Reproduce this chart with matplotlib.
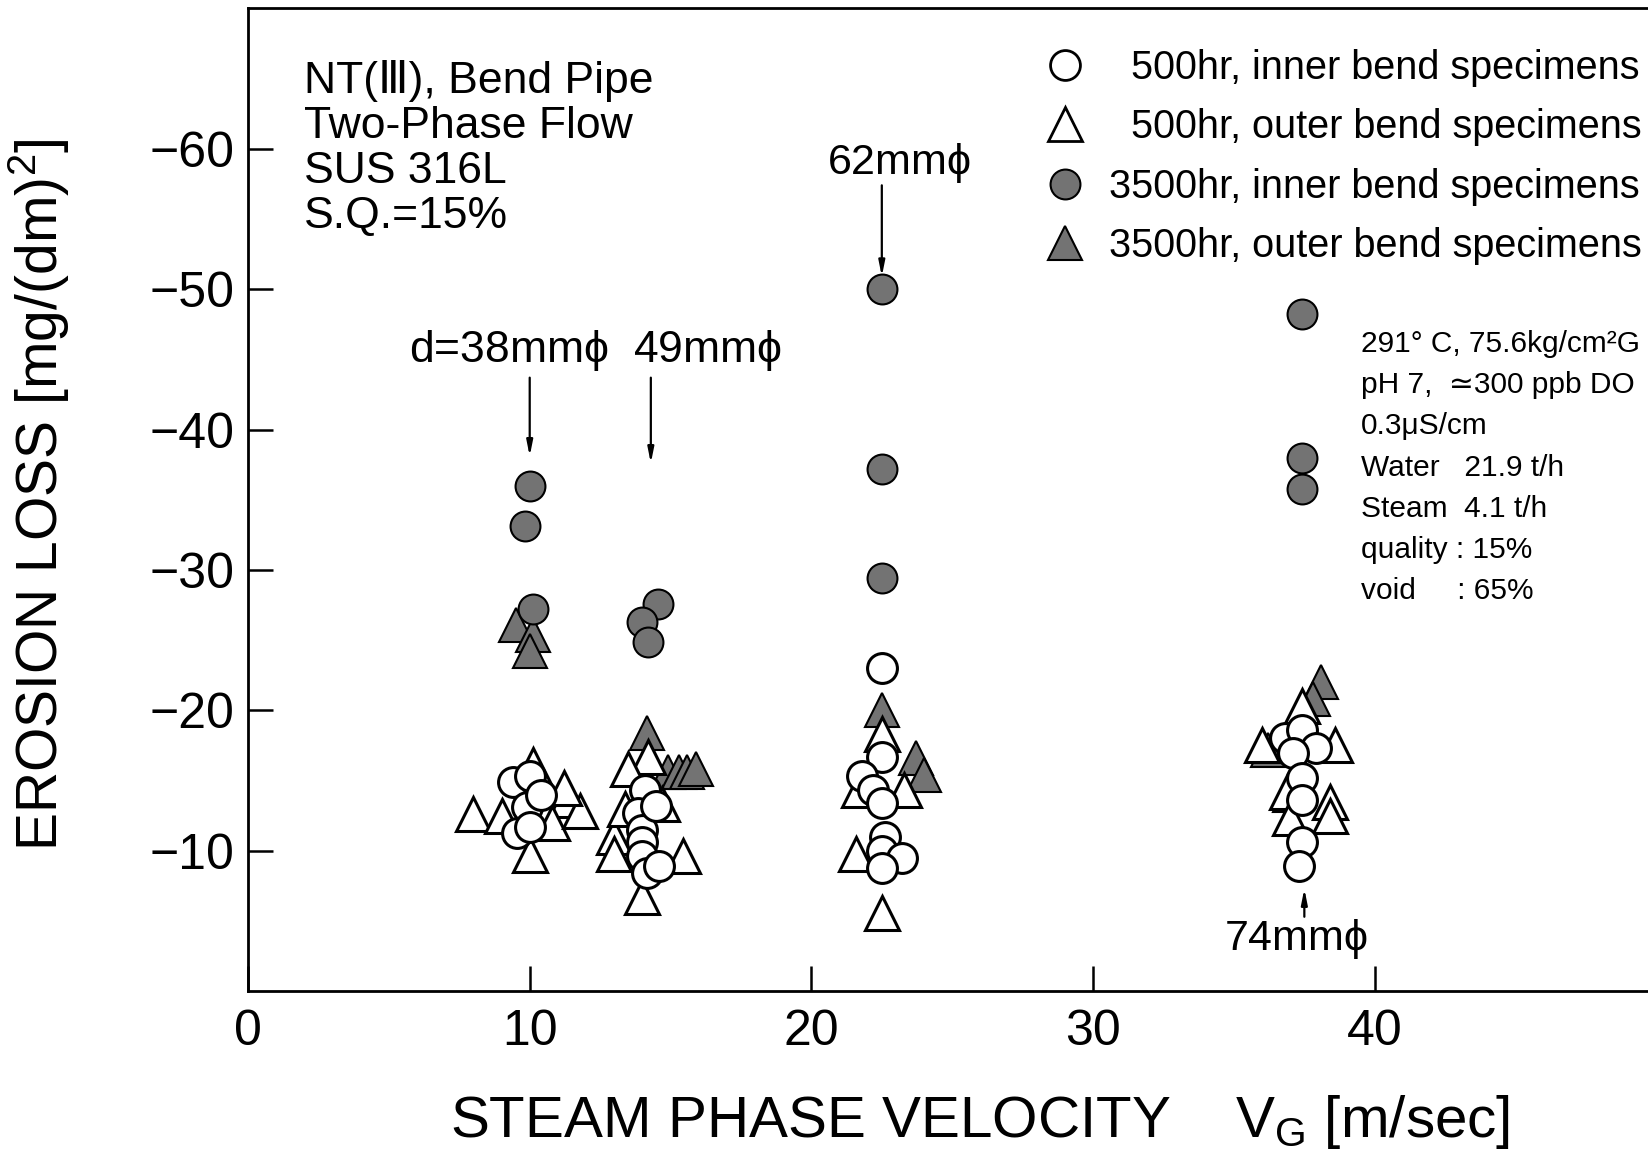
import matplotlib.pyplot as plt
from matplotlib.lines import Line2D

plt.rcParams["font.family"] = ["Liberation Sans", "DejaVu Sans"]
plt.rcParams["mathtext.fontset"] = "custom"
plt.rcParams["mathtext.rm"] = "Liberation Sans"
plt.rcParams["mathtext.it"] = "Liberation Sans"

# 500hr, inner bend (open circles)
c500_x = [9.4, 10.0, 9.9, 9.55, 10.0, 10.4,
          14.1, 13.85, 14.0, 14.0, 14.0, 14.15, 14.6, 14.5,
          22.5, 22.5, 21.8, 22.2, 22.5, 22.6, 22.5, 23.2, 22.5,
          36.8, 37.4, 37.9, 37.1, 37.4, 37.4, 37.4, 37.3]
c500_y = [-14.9, -15.3, -13.1, -11.3, -11.7, -14.0,
          -14.3, -12.7, -11.5, -10.6, -9.6, -8.4, -8.9, -13.2,
          -23.0, -16.7, -15.3, -14.3, -13.4, -11.0, -10.0, -9.5, -8.8,
          -18.0, -18.6, -17.3, -17.0, -15.2, -13.6, -10.6, -8.9]

# 500hr, outer bend (open triangles)
t500_x = [10.1, 8.0, 9.0, 11.3, 10.8, 11.8, 10.0, 11.2,
          14.2, 13.5, 13.0, 13.0, 15.45, 14.0, 14.7, 13.4,
          22.5, 21.7, 23.3, 21.6, 22.5,
          37.4, 36.0, 38.6, 36.9, 38.4, 37.0, 38.4]
t500_y = [-16.1, -12.6, -12.5, -13.6, -12.0, -12.8, -9.7, -14.5,
          -16.7, -15.8, -11.0, -9.8, -9.6, -6.7, -13.3, -13.0,
          -18.3, -14.3, -14.3, -9.8, -5.6,
          -20.3, -17.5, -17.5, -14.2, -13.5, -12.3, -12.5]

# 3500hr, inner bend (filled circles)
c3500_x = [10.0, 9.85, 10.1, 14.55, 14.0, 14.2, 22.5, 22.5, 22.5, 37.4, 37.4, 37.4]
c3500_y = [-36.0, -33.1, -27.2, -27.6, -26.3, -24.9, -50.0, -37.2, -29.4, -48.2, -38.0, -35.8]

# 3500hr, outer bend (filled triangles)
t3500_x = [9.5, 10.1, 10.0, 14.15, 14.9, 15.3, 15.6, 15.9, 22.5, 23.7, 24.0, 38.1, 37.8, 36.2, 37.0]
t3500_y = [-26.1, -25.4, -24.2, -18.4, -15.6, -15.6, -15.6, -15.8, -20.0, -16.6, -15.4, -22.0, -20.8, -17.2, -14.0]

labels = ["  500hr, inner bend specimens", "  500hr, outer bend specimens",
          "3500hr, inner bend specimens", "3500hr, outer bend specimens"]

GRAY = "#737373"
CMS, TMS = 21.5, 24

fig = plt.figure(figsize=(16.48, 11.52), dpi=100)
ax = fig.add_axes([0.1505, 0.1396, 0.8495, 0.8531])

ax.plot(t3500_x, t3500_y, "^", ms=TMS, mfc=GRAY, mec="k", mew=1.5, ls="none", zorder=2)
ax.plot(c3500_x, c3500_y, "o", ms=CMS, mfc=GRAY, mec="k", mew=1.5, ls="none", zorder=2)
ax.plot(t500_x, t500_y, "^", ms=TMS, mfc="white", mec="k", mew=2.2, ls="none", zorder=3)
ax.plot(c500_x, c500_y, "o", ms=CMS, mfc="white", mec="k", mew=2.2, ls="none", zorder=4)

ax.set_xlim(0, 49.7)
ax.set_ylim(0, -70)
ax.set_xticks([0, 10, 20, 30, 40])
ax.set_yticks([-60, -50, -40, -30, -20, -10])
ax.tick_params(direction="in", length=18, width=1.8, labelsize=36)
ax.tick_params(axis="x", pad=13)
ax.tick_params(axis="y", pad=10)
ax.spines["right"].set_visible(False)
for s in ["left", "bottom", "top"]:
    ax.spines[s].set_linewidth(2)

ax.set_xlabel("STEAM PHASE VELOCITY    V$_\\mathrm{G}$ [m/sec]", fontsize=42)
ax.xaxis.set_label_coords(0.523, -0.104)
ax.set_ylabel("EROSION LOSS [mg/(dm)$^\\mathrm{2}$]", fontsize=41)
ax.yaxis.set_label_coords(-0.126, 0.505)

ax.text(2.0, -66.3, "NT(Ⅲ), Bend Pipe\nTwo-Phase Flow\nSUS 316L\nS.Q.=15%",
        fontsize=32, va="top", ha="left", linespacing=1.12)

ax.text(39.5, -47.1, "291° C, 75.6kg/cm²G\npH 7,  ≃300 ppb DO\n0.3μS/cm\nWater   21.9 t/h\n"
        "Steam  4.1 t/h\nquality : 15%\nvoid     : 65%",
        fontsize=21.5, va="top", ha="left", linespacing=1.6)

arrow = dict(arrowstyle="-|>,head_length=0.9,head_width=0.18", lw=1.6, color="k", shrinkA=0, shrinkB=0)
ax.annotate("", xy=(22.5, -50.9), xytext=(22.5, -57.4), arrowprops=arrow)
ax.text(23.1, -59.0, "62mm$\\phi$", fontsize=31, ha="center", va="center")
ax.annotate("", xy=(10.0, -38.1), xytext=(10.0, -43.7), arrowprops=arrow)
ax.text(9.25, -45.6, "d=38mm$\\phi$", fontsize=32, ha="center", va="center")
ax.annotate("", xy=(14.3, -37.6), xytext=(14.3, -43.7), arrowprops=arrow)
ax.text(16.3, -45.6, "49mm$\\phi$", fontsize=32, ha="center", va="center")
ax.annotate("", xy=(37.5, -7.3), xytext=(37.5, -5.3), arrowprops=arrow)
ax.text(37.2, -3.75, "74mm$\\phi$", fontsize=31, ha="center", va="center")

handles = [
    Line2D([], [], marker="o", ms=CMS, mfc="white", mec="k", mew=2.0, ls="none"),
    Line2D([], [], marker="^", ms=TMS, mfc="white", mec="k", mew=2.0, ls="none"),
    Line2D([], [], marker="o", ms=CMS, mfc=GRAY, mec="k", mew=1.5, ls="none"),
    Line2D([], [], marker="^", ms=TMS, mfc=GRAY, mec="k", mew=1.5, ls="none"),
]
ax.legend(handles, labels, loc="upper right", bbox_to_anchor=(1.015, 0.987), frameon=False,
          fontsize=28.5, handlelength=1.0, handletextpad=0.6, labelspacing=0.54,
          borderaxespad=0.3)

fig.savefig("out.png", dpi=100)
